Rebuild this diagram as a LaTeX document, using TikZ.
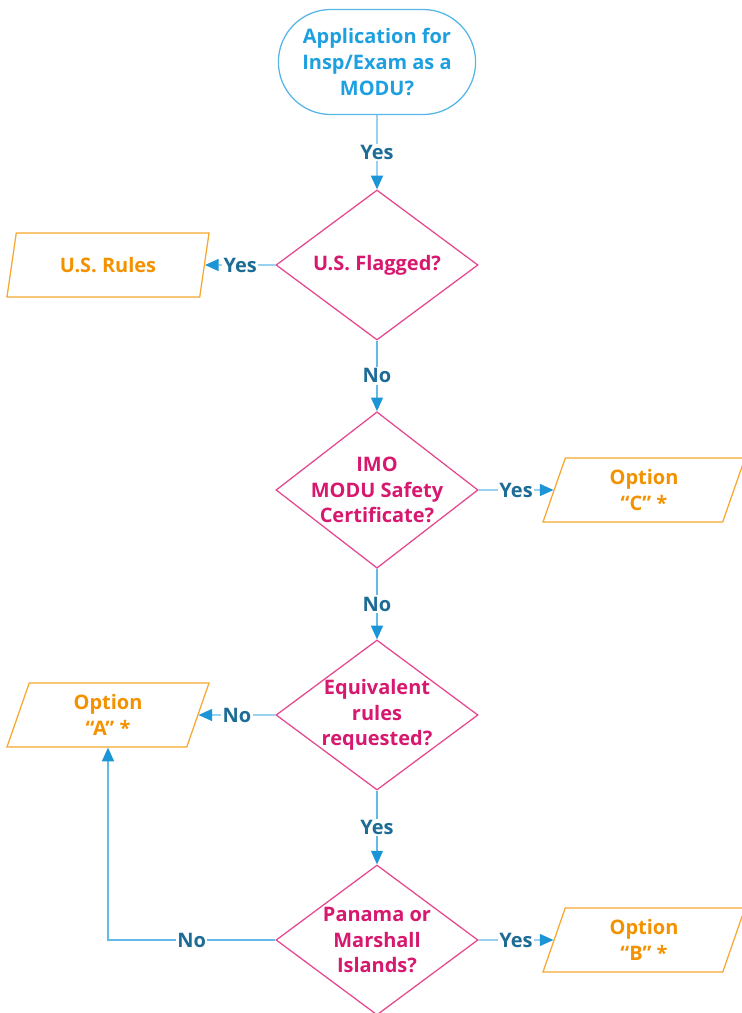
\documentclass[tikz,border=0pt]{standalone}
\usepackage{fontspec}
\setmainfont{Open Sans}
\usepackage{xcolor}
\usepackage{tikz}
\usetikzlibrary{arrows.meta}
\usetikzlibrary{shapes.geometric}
\usetikzlibrary{shapes.misc}

\definecolor{startblue}{HTML}{1EA0E0}
\definecolor{startline}{HTML}{55B6E8}
\definecolor{decpink}{HTML}{E4488E}
\definecolor{dectext}{HTML}{D6186F}
\definecolor{outorange}{HTML}{F6A830}
\definecolor{outtext}{HTML}{F39200}
\definecolor{flowline}{HTML}{62BAE8}
\definecolor{flowtip}{HTML}{1B95D5}
\definecolor{flowlabel}{HTML}{1D6C96}

\begin{document}
\begin{tikzpicture}[x=0.025cm, y=-0.025cm, inner sep=1pt,
    font=\fontsize{14.2pt}{18.3pt}\selectfont\bfseries, align=center,
    start/.style={rounded rectangle, draw=startline, line width=0.9pt, text=startblue,
      minimum width=5cm, minimum height=2.625cm},
    decision/.style={diamond, draw=decpink, line width=0.9pt, text=dectext,
      minimum width=5.05cm, minimum height=3.75cm, inner xsep=-10pt, inner ysep=-5pt},
    outcome/.style={trapezium, trapezium left angle=63, trapezium right angle=117,
      trapezium stretches body, draw=outorange, line width=0.9pt, text=outtext,
      minimum width=5.05cm, minimum height=1.6cm},
    flow/.style={draw=flowline, line width=0.9pt,
      -{Triangle[length=3.4mm, width=3mm, color=flowtip]}},
    answer/.style={fill=white, text=flowlabel, inner sep=1pt}]
    \useasboundingbox (0,0) rectangle (742,1013);
    % boxes
    \node[start] (apply) at (377,62) {Application for\\Insp/Exam as a\\MODU?};
    \node[decision] (flagged) at (377,265) {U.S. Flagged?};
    \node[outcome] (usrules) at (108,265) {U.S. Rules};
    \node[decision] (imocert) at (377,490) {IMO\\MODU Safety\\Certificate?};
    \node[outcome] (optc) at (644,490) {Option\\“C" *};
    \node[decision] (equiv) at (377,715) {Equivalent\\rules\\requested?};
    \node[outcome] (opta) at (108,715) {Option\\“A" *};
    \node[decision] (panama) at (377,940) {Panama or\\Marshall\\Islands?};
    \node[outcome] (optb) at (644,940) {Option\\“B” *};
    % connectors
    \draw[flow] (apply) -- (flagged) node[midway, answer] {Yes};
    \draw[flow] (flagged) -- (usrules) node[midway, answer] {Yes};
    \draw[flow] (flagged) -- (imocert) node[midway, answer] {No};
    \draw[flow] (imocert) -- (optc) node[midway, answer] {Yes};
    \draw[flow] (imocert) -- (equiv) node[midway, answer] {No};
    \draw[flow] (equiv) -- (opta) node[midway, answer] {No};
    \draw[flow] (equiv) -- (panama) node[midway, answer] {Yes};
    \draw[flow] (panama) -- (optb) node[midway, answer] {Yes};
    \draw[flow] (panama.west) -| (opta.south) node[pos=0.25, answer] {No};
\end{tikzpicture}
\end{document}
